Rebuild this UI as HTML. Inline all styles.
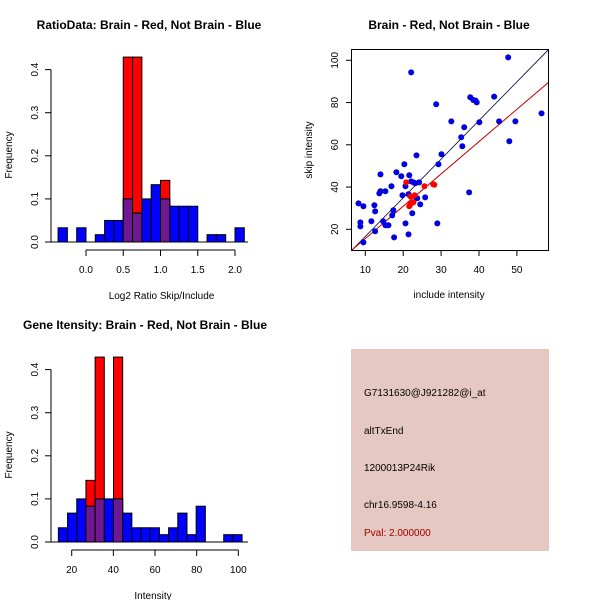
<!DOCTYPE html>
<html><head><meta charset="utf-8"><style>
body{margin:0;background:#fff}
svg{display:block;font-family:"Liberation Sans",sans-serif}
.t{font-weight:bold;font-size:12px}
.l{font-size:10px}
</style></head><body>
<svg id="c" width="600" height="600"></svg>
<script>
// Panel 1: ratio histogram
const ratioBinStart = -0.375, ratioBinWidth = 0.125;
const ratioBlue = [0.033,0,0.033,0,0.017,0.05,0.05,0.1,0.067,0.1,0.133,0.1,0.083,0.083,0.083,0,0.017,0.017,0,0.033];
const ratioRed  = [0,0,0,0,0,0,0,0.429,0.429,0,0,0.143,0,0,0,0,0,0,0,0];
const ratioXTicks = [0.0,0.5,1.0,1.5,2.0];
const ratioXLabels = ["0.0","0.5","1.0","1.5","2.0"];
const freqTicks = [0,0.1,0.2,0.3,0.4];
const freqLabels = ["0.0","0.1","0.2","0.3","0.4"];
// Panel 3: intensity histogram
const intBinStart = 13.6, intBinWidth = 4.41;
const intBlue = [0.033,0.067,0.1,0.083,0.1,0.1,0.1,0.067,0.033,0.033,0.033,0.017,0.033,0.067,0.017,0.083,0,0,0.017,0.017];
const intRed  = [0,0,0,0.143,0.429,0,0.429,0,0,0,0,0,0,0,0,0,0,0,0,0];
const intXTicks = [20,40,60,80,100];
const intXLabels = ["20","40","60","80","100"];
// Panel 2: scatter
const blueX = [47.7,22.1,28.7,37.7,38.5,39.1,39.4,44.0,32.7,40.1,45.3,49.6,56.5,36.1,35.3,48.0,35.6,23.5,30.1,20.3,29.3,18.2,14.0,19.5,21.6,22.1,22.7,23.2,24.2,20.6,16.9,14.0,13.7,15.3,19.8,21.4,23.5,23.7,25.8,8.2,9.5,12.4,24.5,12.6,17.4,22.4,17.1,11.6,14.7,8.7,8.7,20.6,29.0,15.3,15.8,16.1,12.6,21.4,17.6,9.5,37.4];
const blueY = [101.4,94.3,79.2,82.5,81.2,80.9,80.1,82.8,71.1,70.7,71.1,71.1,74.9,68.3,63.6,61.7,59.3,55.0,55.5,50.8,50.8,47.0,46.0,45.1,45.6,42.7,42.2,41.8,42.2,40.4,40.4,38.0,37.0,38.0,36.1,36.6,34.7,34.7,35.1,32.3,30.9,31.4,31.8,28.5,29.0,27.6,26.6,23.8,23.8,23.3,21.4,22.8,22.8,21.9,21.9,21.9,19.1,17.6,16.2,13.8,37.5];
const redX = [20.8,25.6,27.9,28.2,21.9,23.0,22.1,22.7,21.6,21.9];
const redY = [42.2,40.4,41.3,41.1,35.6,36.1,32.3,32.8,30.9,31.8];
const scXTicks = [10,20,30,40,50];
const scYTicks = [20,40,60,80,100];
const lineBlack = [-1.7, 1.83]; // intercept, slope
const lineRed = [0.3, 1.53];

const NS="http://www.w3.org/2000/svg", svg=document.getElementById('c');
function mk(tag,attrs,parent,txt){const e=document.createElementNS(NS,tag);for(const k in attrs)e.setAttribute(k,attrs[k]);if(txt!==undefined)e.textContent=txt;(parent||svg).appendChild(e);return e;}
function grp(name){const g=mk('g',{});return g;}

function hist(name,y0px,binStart,binW,blue,red,xs,xTicks,xLabels,xTitle,title,titleX){
  const g=grp(name);
  const ys=v=>y0px-v/0.1*43.1;
  const t=mk('text',{x:titleX,y:y0px-213,'text-anchor':'middle',class:'t'},g,title);
  
  for(let i=0;i<blue.length;i++){
    const a=xs(binStart+i*binW),b=xs(binStart+(i+1)*binW);
    const hb=blue[i],hr=red[i],lo=Math.min(hb,hr);
    if(hr>0){const r=mk('rect',{x:a,y:ys(hr),width:b-a,height:ys(0)-ys(hr),fill:'#ff0000',stroke:'#000','stroke-width':1},g);
      }
    if(hb>0){const r=mk('rect',{x:a,y:ys(hb),width:b-a,height:ys(0)-ys(hb),fill:'#0000ff',stroke:'#000','stroke-width':1},g);
      }
    if(hr>0&&hb>0){const r=mk('rect',{x:a,y:ys(lo),width:b-a,height:ys(0)-ys(lo),fill:'#701890',stroke:'#000','stroke-width':1},g);
      }
  }
  const xa=grp('x-axis');g.appendChild(xa);
  mk('line',{x1:xs(xTicks[0]),x2:xs(xTicks[xTicks.length-1]),y1:y0px+8,y2:y0px+8,stroke:'#000'},xa);
  xTicks.forEach((v,i)=>{mk('line',{x1:xs(v),x2:xs(v),y1:y0px+8,y2:y0px+14,stroke:'#000'},xa);
    mk('text',{x:xs(v),y:y0px+31,'text-anchor':'middle',class:'l'},xa,xLabels[i]);});
  mk('line',{x1:51,x2:248,y1:y0px,y2:y0px,stroke:'#000'},g);
  const ya=grp('y-axis');g.appendChild(ya);
  mk('line',{x1:51,x2:51,y1:ys(0),y2:ys(0.4),stroke:'#000'},ya);
  freqTicks.forEach((v,i)=>{mk('line',{x1:45,x2:51,y1:ys(v),y2:ys(v),stroke:'#000'},ya);
    mk('text',{x:0,y:0,'text-anchor':'middle',class:'l',transform:`translate(38,${ys(v)}) rotate(-90)`},ya,freqLabels[i]);});
  const yt=mk('text',{x:0,y:0,'text-anchor':'middle',class:'l',transform:`translate(12,${y0px-87}) rotate(-90)`},g,'Frequency');
  
  const xt=mk('text',{x:xs(xTicks[0])/2+xs(xTicks[xTicks.length-1])/2-(name==='ratio-histogram'?-1:2),y:y0px+57,'text-anchor':'middle',class:'l'},g,xTitle);
  
}
hist('ratio-histogram',242,ratioBinStart,ratioBinWidth,ratioBlue,ratioRed,v=>86+v*74.5,ratioXTicks,ratioXLabels,'Log2 Ratio Skip/Include','RatioData: Brain - Red, Not Brain - Blue',149);
hist('intensity-histogram',542,intBinStart,intBinWidth,intBlue,intRed,v=>71.7+(v-20)*2.083,intXTicks,intXLabels,'Intensity','Gene Itensity: Brain - Red, Not Brain - Blue',145);

// scatter
(function(){
  const g=grp('scatter-plot');
  const sx=v=>365.3+(v-10)*3.79, sy=v=>229.3-(v-20)*2.1125;
  const t=mk('text',{x:449,y:29,'text-anchor':'middle',class:'t'},g,'Brain - Red, Not Brain - Blue');
  
  const cp=mk('clipPath',{id:'cp'},g);mk('rect',{x:352,y:49,width:196,height:201},cp);
  const lg=mk('g',{'clip-path':'url(#cp)'},g);
  const x0=5,x1=60;
  const l1=mk('line',{x1:sx(x0),y1:sy(lineBlack[0]+lineBlack[1]*x0),x2:sx(x1),y2:sy(lineBlack[0]+lineBlack[1]*x1),stroke:'#000040','stroke-width':0.8},lg);
  
  const l2=mk('line',{x1:sx(x0),y1:sy(lineRed[0]+lineRed[1]*x0),x2:sx(x1),y2:sy(lineRed[0]+lineRed[1]*x1),stroke:'#c00000','stroke-width':1},lg);
  
  blueX.forEach((v,i)=>{const c=mk('circle',{cx:sx(v),cy:sy(blueY[i]),r:3,fill:'#0000e0'},g);
    });
  redX.forEach((v,i)=>{const c=mk('circle',{cx:sx(v),cy:sy(redY[i]),r:3,fill:'#ff0000'},g);
    });
  const b=mk('rect',{x:351.5,y:49.5,width:197,height:201,fill:'none',stroke:'#000'},g);
  
  const xa=grp('x-axis');g.appendChild(xa);
  scXTicks.forEach(v=>{mk('line',{x1:sx(v),x2:sx(v),y1:250,y2:256,stroke:'#000'},xa);
    mk('text',{x:sx(v),y:273,'text-anchor':'middle',class:'l'},xa,String(v));});
  const ya=grp('y-axis');g.appendChild(ya);
  scYTicks.forEach(v=>{mk('line',{x1:346,x2:352,y1:sy(v),y2:sy(v),stroke:'#000'},ya);
    mk('text',{x:0,y:0,'text-anchor':'middle',class:'l',transform:`translate(338,${sy(v)}) rotate(-90)`},ya,String(v));});
  const xt=mk('text',{x:449,y:298,'text-anchor':'middle',class:'l'},g,'include intensity');
  
  const yt=mk('text',{x:0,y:0,'text-anchor':'middle',class:'l',transform:'translate(312,150) rotate(-90)'},g,'skip intensity');
  
})();

// info panel
(function(){
  const g=grp('info-panel');
  mk('rect',{x:351,y:349,width:198,height:202,fill:'#e6c8c2'},g);
  const lines=[['G7131630@J921282@i_at',396,'#000','probe-id'],['altTxEnd',434,'#000','event-type'],['1200013P24Rik',471,'#000','gene-name'],['chr16.9598-4.16',508,'#000','location'],['Pval: 2.000000',536,'#a00000','p-value']];
  lines.forEach(l=>{const t=mk('text',{x:364,y:l[1],fill:l[2],class:'l'},g,l[0]);
    });
})();
</script>
</body></html>
